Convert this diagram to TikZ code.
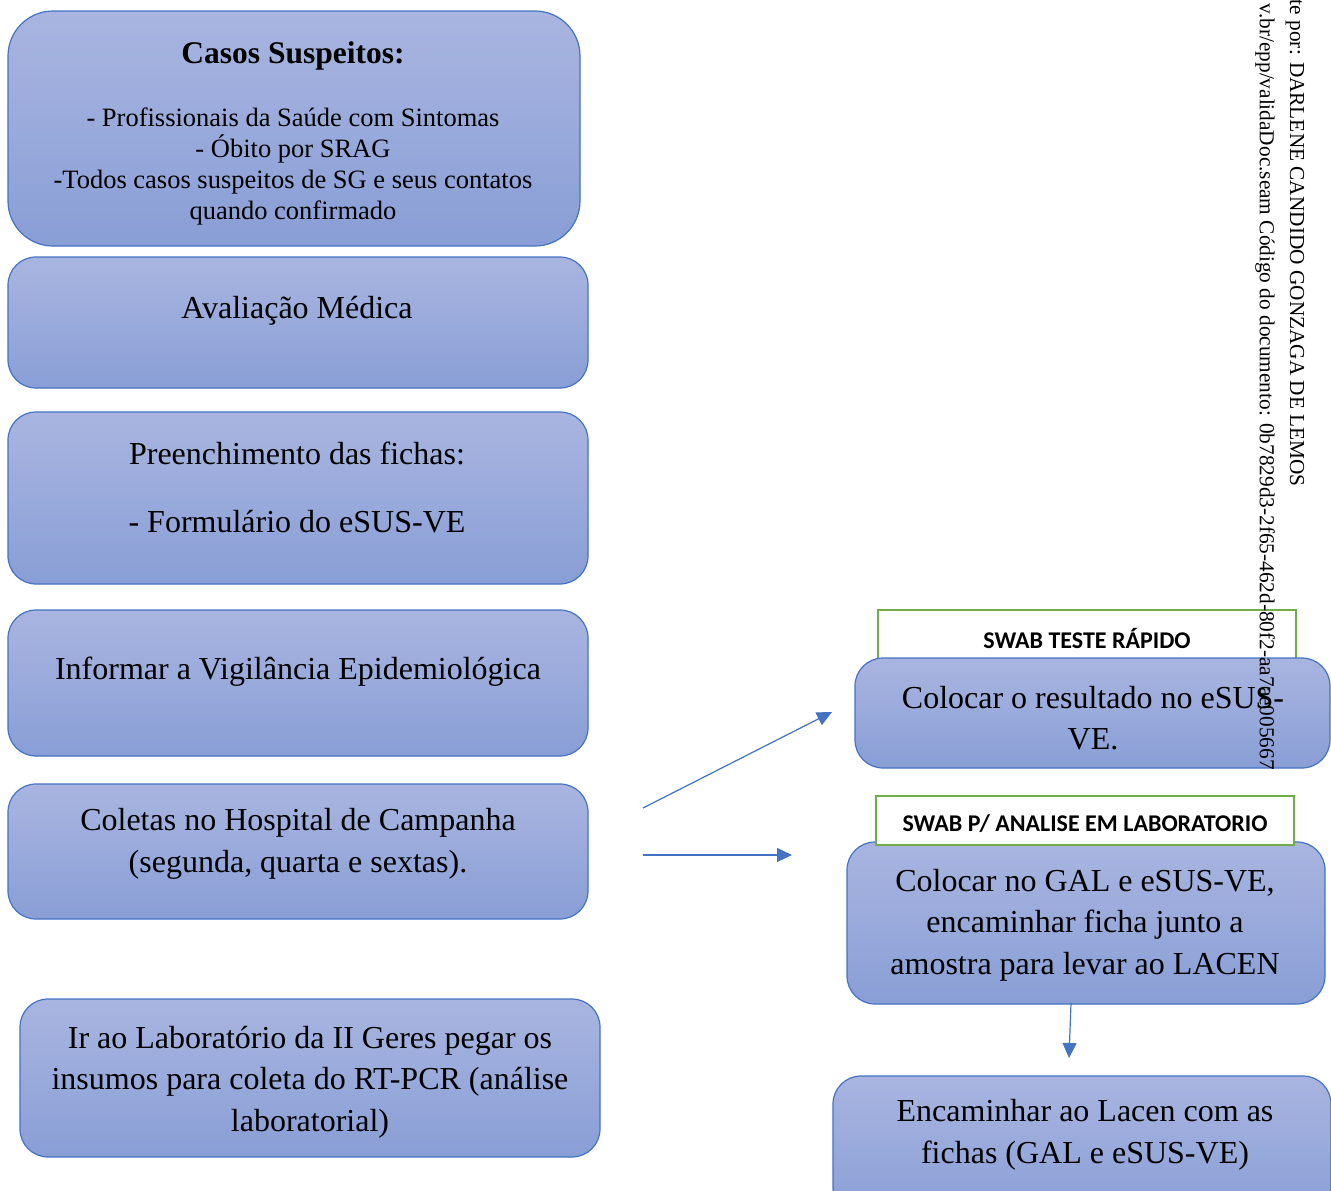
\documentclass[tikz,border=0pt]{standalone}
\usepackage{fontspec}
\setmainfont{Liberation Serif}
\newfontfamily\calib{Carlito}
\usetikzlibrary{arrows.meta}
\definecolor{bfillA}{RGB}{169,181,224}
\definecolor{bfillB}{RGB}{137,158,214}
\definecolor{bline}{RGB}{68,114,196}
\definecolor{gline}{RGB}{112,173,71}
\begin{document}
\begin{tikzpicture}[x=1pt,y=-1pt,
  box/.style={draw=bline, line width=1.2pt, rounded corners=28pt, top color=bfillA, bottom color=bfillB, anchor=north west, inner sep=0pt, outer sep=0pt},
  gbox/.style={draw=gline, line width=2pt, fill=white, anchor=north west, inner sep=0pt, outer sep=0pt},
  txt/.style={align=center, inner sep=0pt, font=\fontsize{32}{41.5}\selectfont},
  stxt/.style={align=center, inner sep=0pt, font=\fontsize{26.5}{31}\selectfont},
  gtxt/.style={inner sep=0pt, font=\calib\bfseries\fontsize{24}{28}\selectfont},
  rtxt/.style={inner sep=0pt, rotate=-90, anchor=east, font=\fontsize{21.3}{25}\selectfont},
  arr/.style={draw=bline, line width=1.2pt, -{Triangle[length=15pt,width=14pt]}}]
\useasboundingbox (0,0) rectangle (1331,1191);
\clip (0,0) rectangle (1331,1191);
\fill[white] (0,0) rectangle (1331,1191);

% left column
\node[box, rounded corners=45pt, minimum width=572pt, minimum height=235pt] (b1) at (8,11) {};
\node[stxt, font=\bfseries\fontsize{31.5}{36}\selectfont] (t1a) at (293,56) {Casos Suspeitos:};
\node[stxt] (t1b) at (293,166) {- Profissionais da Saúde com Sintomas\\- Óbito por SRAG\\-Todos casos suspeitos de SG e seus contatos\\quando confirmado};

\node[box, minimum width=580pt, minimum height=131pt] (b2) at (8,257) {};
\node[txt] (t2) at (297,311) {Avaliação Médica};

\node[box, minimum width=580pt, minimum height=172pt] (b3) at (8,412) {};
\node[txt] (t3a) at (297,453) {Preenchimento das fichas:};
\node[txt] (t3b) at (297,522) {- Formulário do eSUS-VE};

\node[box, minimum width=580pt, minimum height=146pt] (b4) at (8,610) {};
\node[txt] (t4) at (298,672) {Informar a Vigilância Epidemiológica};

\node[box, minimum width=580pt, minimum height=135pt] (b5) at (8,784) {};
\node[txt] (t5) at (298,844) {Coletas no Hospital de Campanha\\(segunda, quarta e sextas).};

\node[box, minimum width=580pt, minimum height=158pt] (b6) at (20,999) {};
\node[txt] (t6) at (310,1082) {Ir ao Laboratório da II Geres pegar os\\insumos para coleta do RT-PCR (análise\\laboratorial)};

% right column
\node[gbox, minimum width=418pt, minimum height=70pt] (g1) at (878,610) {};
\node[gtxt] (tg1) at (1087,638) {SWAB TESTE RÁPIDO};
\node[box, minimum width=475pt, minimum height=110pt] (b7) at (855,658) {};
\node[txt] (t7) at (1093,718) {Colocar o resultado no eSUS-\\VE.};

\node[box, minimum width=478pt, minimum height=162pt] (b10) at (847,842) {};
\node[gbox, minimum width=418pt, minimum height=49pt] (g2) at (876,796) {};
\node[gtxt] (tg2) at (1085,824) {SWAB P/ ANALISE EM LABORATORIO};
\node[txt] (t10) at (1085,925) {Colocar no GAL e eSUS-VE,\\encaminhar ficha junto a\\amostra para levar ao LACEN};

\node[box, minimum width=498pt, minimum height=140pt] (b11) at (833,1076) {};
\node[txt] (t11) at (1085,1135) {Encaminhar ao Lacen com as\\fichas (GAL e eSUS-VE)};

% arrows
\coordinate (a1s) at (643,808);
\coordinate (a1e) at (832,712);
\coordinate (a2s) at (643,855);
\coordinate (a2e) at (792,855);
\coordinate (a3s) at (1071,1003);
\coordinate (a3e) at (1069,1058);
\draw[arr] (a1s) -- (a1e);
\draw[arr] (a2s) -- (a2e);
\draw[arr] (a3s) -- (a3e);

% rotated margin text
\node[rtxt] (r1) at (1295,487) {te por: DARLENE CANDIDO GONZAGA DE LEMOS};
\node[rtxt] (r2) at (1265,770) {v.br/epp/validaDoc.seam Código do documento: 0b7829d3-2f65-462d-80f2-aa7ae005667};
\end{tikzpicture}
\end{document}
